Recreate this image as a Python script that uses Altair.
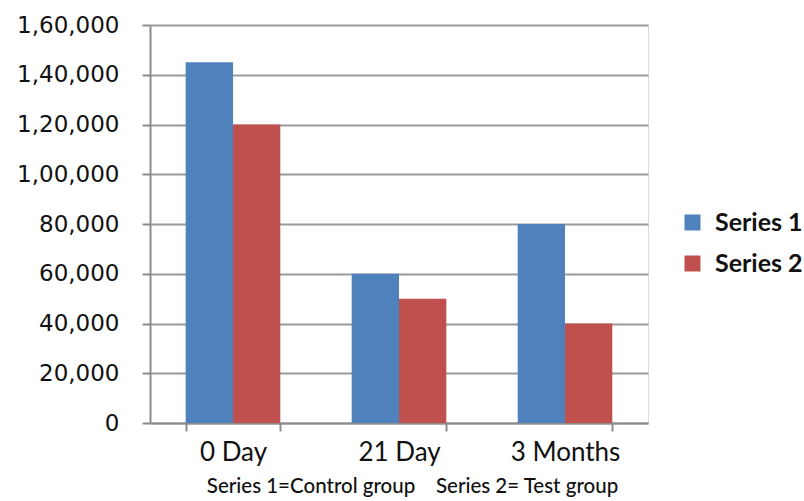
import altair as alt
import pandas as pd

categories = ["0 Day", "21 Day", "3 Months"]
series_names = ["Series 1", "Series 2"]
series1 = [145000, 60000, 80000]
series2 = [120000, 50000, 40000]
y_ticks = [0, 20000, 40000, 60000, 80000, 100000, 120000, 140000, 160000]
colors = ["#4F81BD", "#C0504D"]
note = "Series 1=Control group\u00a0\u00a0\u00a0\u00a0Series 2= Test group"

rows = []
for c, a, b in zip(categories, series1, series2):
    rows.append({"cat": c, "series": series_names[0], "value": a})
    rows.append({"cat": c, "series": series_names[1], "value": b})
df = pd.DataFrame(rows)

label_expr = ("datum.value >= 100000 ? format(floor(datum.value/100000), 'd') + ',' + "
              "format(floor((datum.value % 100000)/1000), '02d') + ',' + format(datum.value % 1000, '03d')"
              " : format(datum.value, ',')")

chart = alt.Chart(df).mark_bar().encode(
    x=alt.X("cat:N", sort=categories,
            scale=alt.Scale(paddingInner=0.43, paddingOuter=0.215),
            axis=alt.Axis(title=note, labelAngle=0, tickBand="extent", tickSize=8,
                          domainColor="#8c8c8c", tickColor="#8c8c8c", domainWidth=2, tickWidth=2,
                          labelFont="Lato", labelFontSize=26, labelColor="#111111", labelPadding=8,
                          titleFont="Lato", titleFontSize=20.5, titleFontWeight=500,
                          titleColor="#111111", titleX=262, titleY=69, titleAlign="center",
                          titleBaseline="alphabetic", grid=False)),
    xOffset=alt.XOffset("series:N", sort=series_names,
                        scale=alt.Scale(paddingInner=0, paddingOuter=0)),
    y=alt.Y("value:Q", scale=alt.Scale(domain=[0, 160000], nice=False),
            axis=alt.Axis(values=y_ticks, labelExpr=label_expr, title=None, tickSize=8,
                          domainColor="#8c8c8c", tickColor="#8c8c8c", domainWidth=2, tickWidth=2,
                          gridColor="#9a9a9a", gridWidth=2, labelFont="DejaVu Sans",
                          labelFontSize=23, labelColor="#111111", labelPadding=23)),
    color=alt.Color("series:N", scale=alt.Scale(domain=series_names, range=colors),
                    legend=alt.Legend(title=None, orient="none", legendX=530, legendY=185,
                                      symbolType="square", symbolSize=256, symbolStrokeWidth=0,
                                      labelFont="Lato", labelFontSize=25, labelFontWeight="bold",
                                      labelColor="#111111", rowPadding=15, labelOffset=10)),
).properties(
    width=498, height=398,
    autosize=alt.AutoSizeParams(type="none"),
    padding={"left": 150, "top": 25, "right": 156, "bottom": 78},
).configure_view(stroke=None).configure(background="white")

chart.save("out.html", embed_options={"renderer": "svg", "actions": False})
